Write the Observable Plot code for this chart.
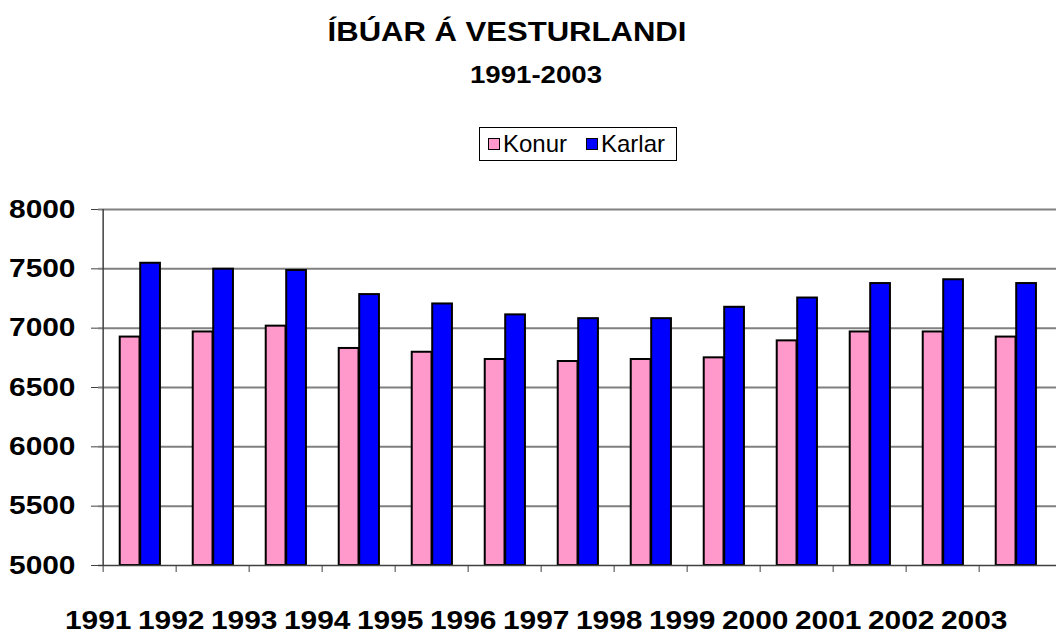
<!DOCTYPE html>
<html>
<head>
<meta charset="utf-8">
<script src="https://cdn.jsdelivr.net/npm/d3@7"></script>
<script src="https://cdn.jsdelivr.net/npm/@observablehq/plot@0.6"></script>
<style>
  html, body { margin: 0; padding: 0; background: #fff; }
  #wrap { position: relative; width: 1056px; height: 635px; overflow: hidden; font-family: "Liberation Sans", Arial, sans-serif; color: #000; }
  #chart { position: absolute; left: 0; top: 0; }
  .ttl { position: absolute; white-space: nowrap; text-align: center; line-height: 1; font-weight: bold; }
  #legend { position: absolute; left: 479px; top: 127px; width: 198px; height: 34px; border: 1px solid #000; box-sizing: border-box; font-size: 24px; line-height: 32px; white-space: nowrap; }
  #legend .item { position: absolute; top: 0; }
  #legend .sw { display: inline-block; width: 10px; height: 10px; border: 1px solid #000; vertical-align: 2px; margin-right: 3px; }
</style>
</head>
<body>
<div id="wrap">
  <div id="chart"></div>
  <div class="ttl" id="title"></div>
  <div class="ttl" id="subtitle"></div>
  <div id="legend"></div>
</div>
<script>
// ---- data ----
const years = [1991, 1992, 1993, 1994, 1995, 1996, 1997, 1998, 1999, 2000, 2001, 2002, 2003];
const konur = [6925, 6968, 7017, 6829, 6797, 6736, 6719, 6736, 6750, 6893, 6968, 6968, 6925];
const karlar = [7547, 7497, 7486, 7283, 7204, 7112, 7080, 7080, 7176, 7254, 7376, 7408, 7376];
const seriesNames = ["Konur", "Karlar"];
const seriesColors = ["#FF99CC", "#0000FF"];
const yTicks = [5000, 5500, 6000, 6500, 7000, 7500, 8000];
const titleText = "ÍBÚAR Á VESTURLANDI";
const subtitleText = "1991-2003";

// ---- layout/style ----
const W = 1056, H = 635;
const mL = 98, mR = 0, mT = 209, mB = 70;
const step = (W - mL - mR) / years.length;
const stretch = 1.15;

const rowsKonur = years.map((y, i) => ({year: y, value: konur[i]}));
const rowsKarlar = years.map((y, i) => ({year: y, value: karlar[i]}));

const chart = Plot.plot({
  width: W, height: H,
  marginLeft: mL, marginRight: mR, marginTop: mT, marginBottom: mB,
  style: {fontFamily: "'Liberation Sans', Arial, sans-serif", color: "#000", background: "#fff"},
  x: {type: "band", domain: years, padding: 0},
  y: {domain: [5000, 8000]},
  marks: [
    Plot.gridY(yTicks.filter(t => t > 5000), {stroke: "#808080", strokeOpacity: 1, strokeWidth: 2}),
    Plot.barY(rowsKonur, {x: "year", y1: 5000, y2: "value", fill: seriesColors[0], stroke: "#000", strokeWidth: 2,
      insetLeft: step * 0.227, insetRight: step * 0.495}),
    Plot.barY(rowsKarlar, {x: "year", y1: 5000, y2: "value", fill: seriesColors[1], stroke: "#000", strokeWidth: 2,
      insetLeft: step * 0.505, insetRight: step * 0.218}),
    Plot.ruleY([5000], {stroke: "#404040", strokeWidth: 1.5}),
    Plot.ruleX([years[0]], {x: d => d, dx: -step / 2, y1: 5000, y2: 8000, stroke: "#404040", strokeWidth: 1.5}),
    Plot.axisY({ticks: yTicks, tickFormat: d => String(d), tickSize: 7, tickPadding: 16, fontSize: 26, fontWeight: "bold", label: null, stroke: "#404040"}),
    Plot.axisX({tickSize: 7, tickFormat: () => "", dx: -step / 2, label: null, stroke: "#404040"}),
    Plot.axisX({tickSize: 0, tickPadding: 45, dx: -step / 2 - 5, fontSize: 26, fontWeight: "bold", label: null, tickFormat: d => String(d)})
  ]
});
document.getElementById("chart").appendChild(chart);

// horizontally stretched lettering, as in the original
chart.querySelectorAll('g[aria-label$="tick label"] text').forEach(t => {
  const tr = t.getAttribute("transform") || "";
  t.setAttribute("transform", tr + ` scale(${stretch},1)`);
});

// titles
function placeTitle(el, text, cx, baseline, size) {
  el.textContent = text;
  el.style.fontSize = size + "px";
  el.style.width = "600px";
  el.style.left = (cx - 300) + "px";
  el.style.top = (baseline - 0.8465 * size) + "px";
  el.style.transform = `scaleX(${stretch})`;
}
placeTitle(document.getElementById("title"), titleText, 507, 42, 27);
placeTitle(document.getElementById("subtitle"), subtitleText, 536, 83, 24);

// legend
const legend = document.getElementById("legend");
const itemLeft = [8, 106];
seriesNames.forEach((name, i) => {
  const it = document.createElement("div");
  it.className = "item";
  it.style.left = itemLeft[i] + "px";
  it.innerHTML = `<span class="sw" style="background:${seriesColors[i]}"></span><span>${name}</span>`;
  legend.appendChild(it);
});
</script>
</body>
</html>
